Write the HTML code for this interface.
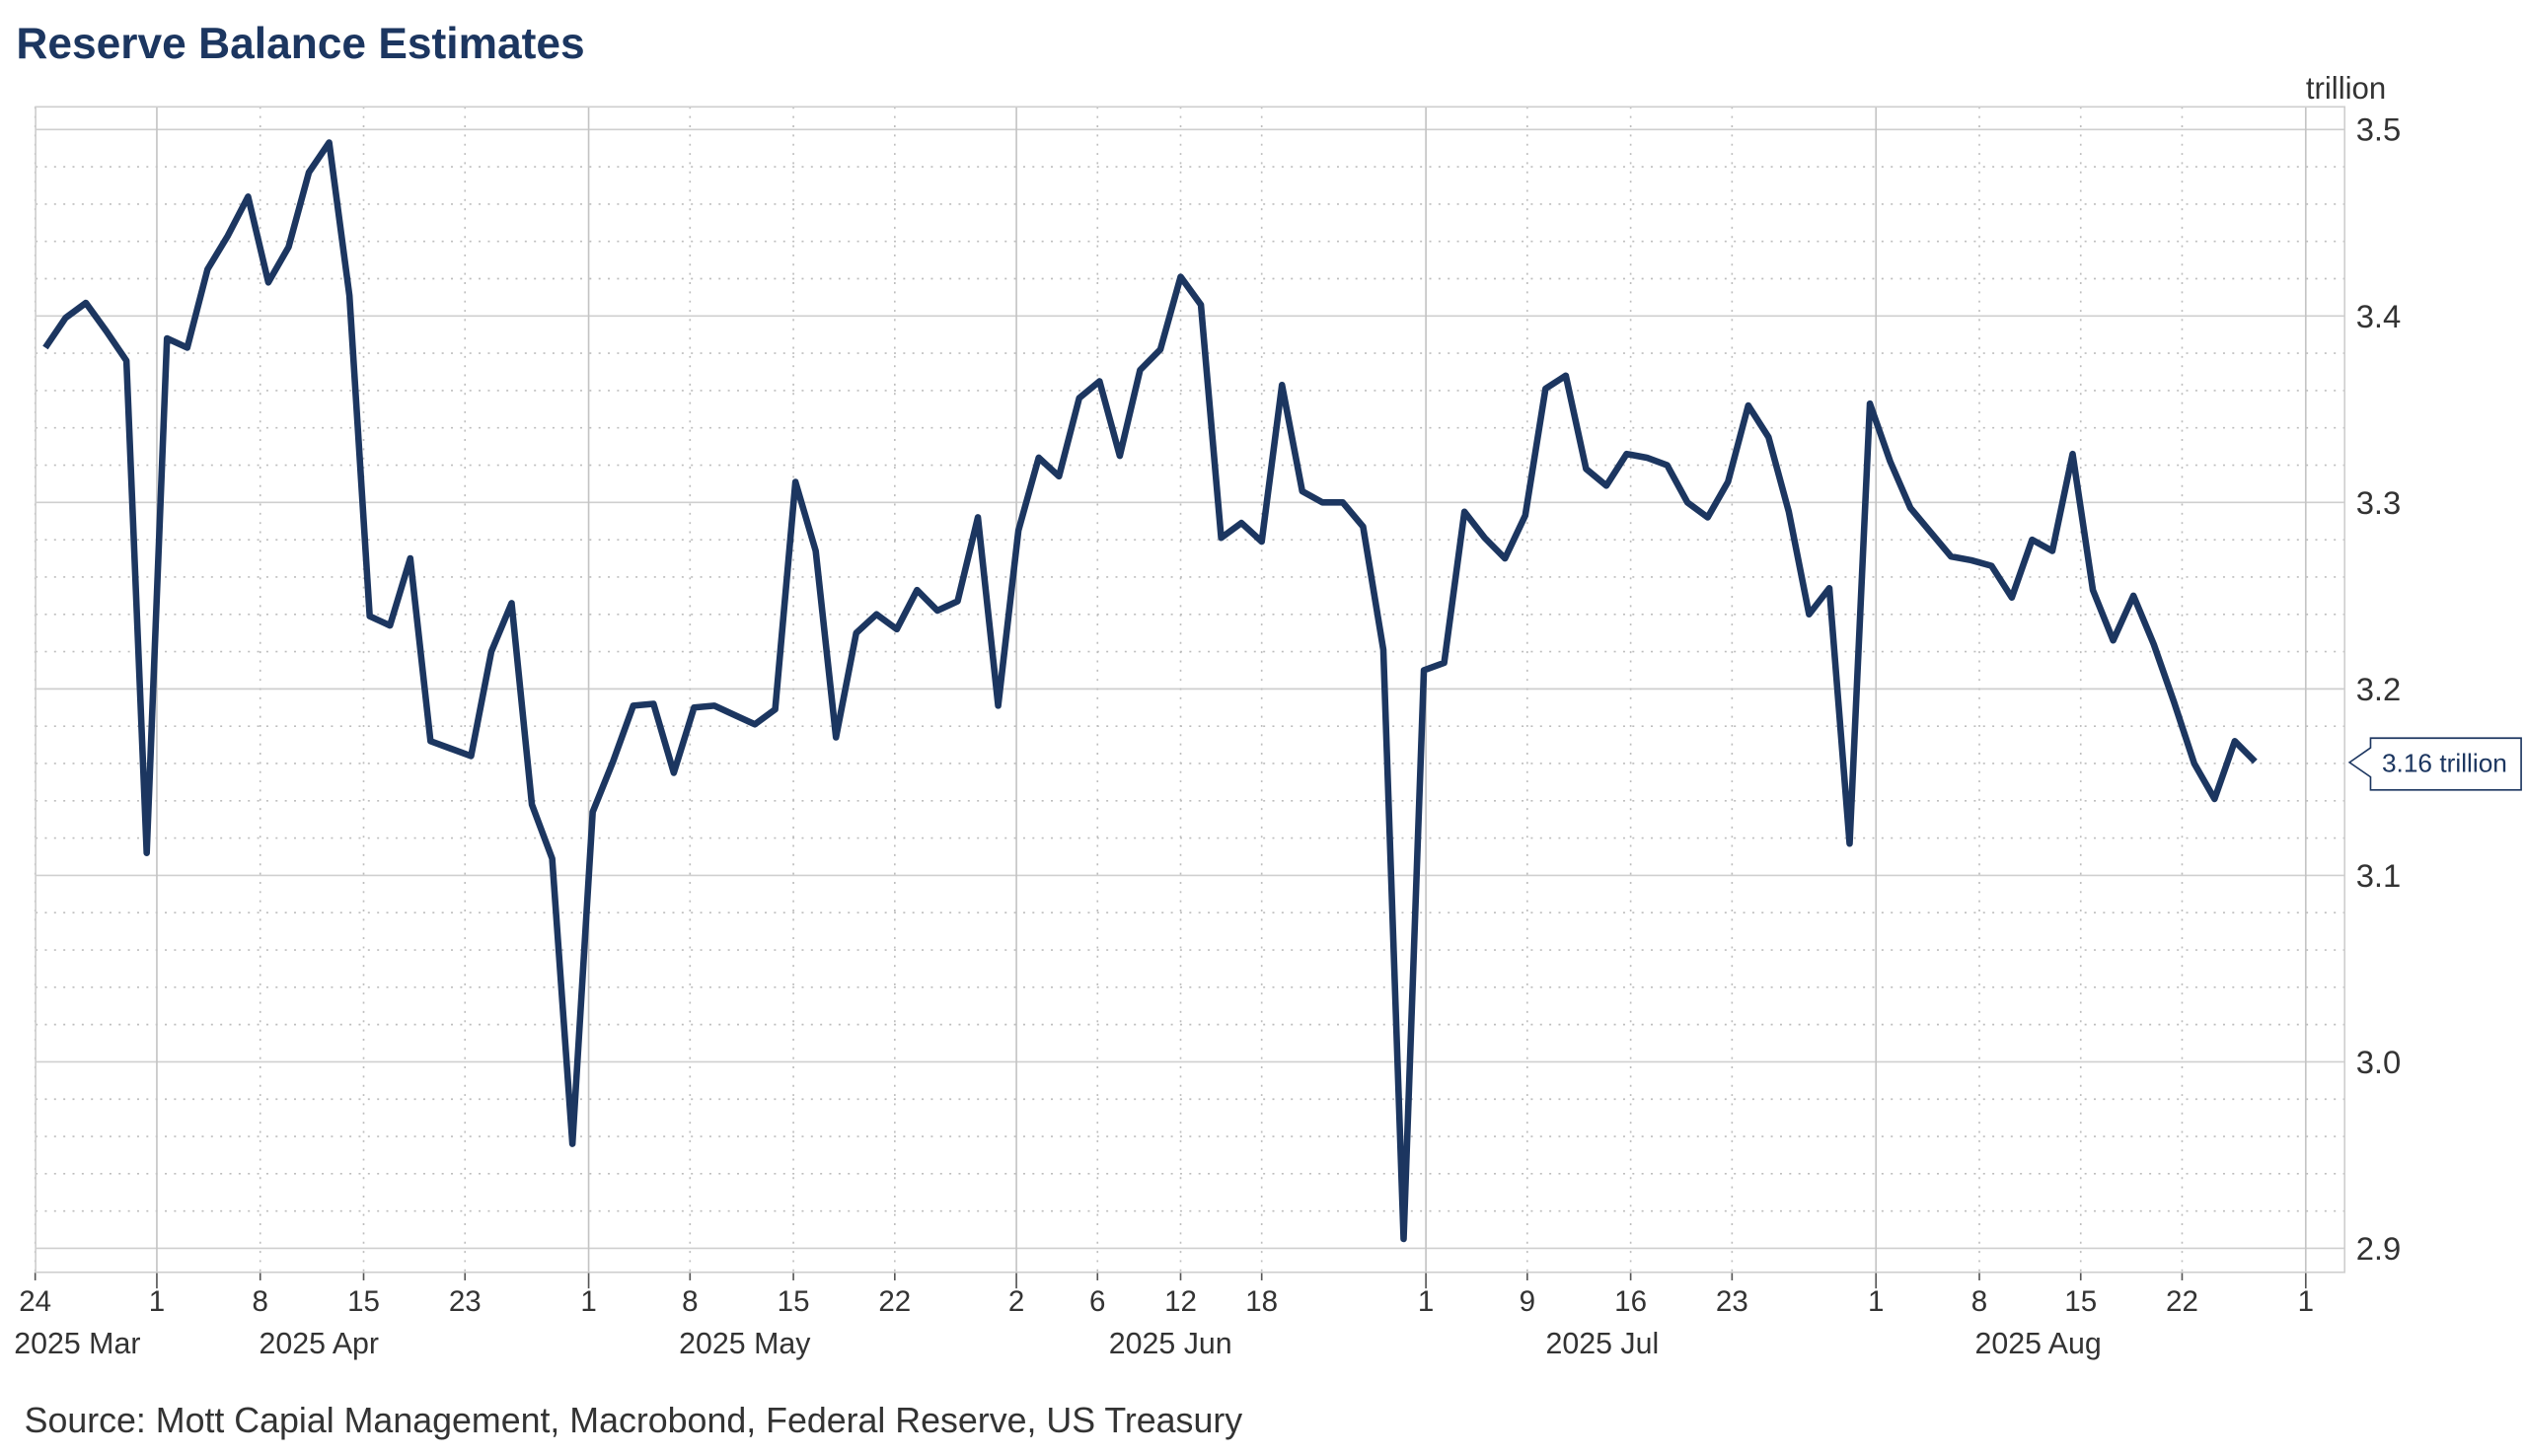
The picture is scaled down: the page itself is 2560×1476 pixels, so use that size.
<!DOCTYPE html>
<html><head><meta charset="utf-8"><style>
html,body{margin:0;padding:0;background:#fff;}
svg{display:block;font-family:"Liberation Sans",Arial,sans-serif;}
</style></head><body>
<svg id="chart" width="2560" height="1476" viewBox="0 0 1560 899.5" preserveAspectRatio="none" xmlns="http://www.w3.org/2000/svg">
<text x="10" y="36" font-size="27" font-weight="bold" fill="#1c3660">Reserve Balance Estimates</text>
<text x="1424" y="61" font-size="19" fill="#333">trillion</text>
<g id="grid"></g>
<g id="axes"></g>
<g id="series"></g>
<g>
<path d="M1451 471 L1464 462 L1464 456 L1557 456 L1557 488 L1464 488 L1464 480 Z" fill="#fff" stroke="#1c3660" stroke-width="1"/>
<text x="1471" y="477" font-size="16" fill="#1c3660">3.16 trillion</text>
</g>
<text x="15" y="885" font-size="21.8" fill="#333">Source: Mott Capial Management, Macrobond, Federal Reserve, US Treasury</text>
</svg>
<script>
const values = [3.383,3.399,3.407,3.392,3.376,3.112,3.388,3.383,3.425,3.443,3.464,3.418,3.437,3.477,3.493,3.411,3.239,3.234,3.270,3.172,3.168,3.164,3.220,3.246,3.138,3.109,2.956,3.134,3.161,3.191,3.192,3.155,3.190,3.191,3.186,3.181,3.189,3.311,3.274,3.174,3.230,3.240,3.232,3.253,3.242,3.247,3.292,3.191,3.285,3.324,3.314,3.356,3.365,3.325,3.371,3.382,3.421,3.406,3.281,3.289,3.279,3.363,3.306,3.300,3.300,3.287,3.221,2.905,3.210,3.214,3.295,3.281,3.270,3.293,3.361,3.368,3.318,3.309,3.326,3.324,3.320,3.300,3.292,3.311,3.352,3.335,3.295,3.240,3.254,3.117,3.353,3.322,3.297,3.284,3.271,3.269,3.266,3.249,3.280,3.274,3.326,3.253,3.226,3.250,3.224,3.193,3.160,3.141,3.172,3.161];
const tickIdx = [-0.5,5.5,10.6,15.7,20.7,26.8,31.8,36.9,41.9,47.9,51.9,56,60,68.1,73.1,78.2,83.2,90.3,95.4,100.4,105.4,111.5];
const tickLabels = ["24","1","8","15","23","1","8","15","22","2","6","12","18","1","9","16","23","1","8","15","22","1"];
const tickMajor = [0,1,0,0,0,1,0,0,0,1,0,0,0,1,0,0,0,1,0,0,0,1];
const monthLabels = ["2025 Mar","2025 Apr","2025 May","2025 Jun","2025 Jul","2025 Aug"];
const monthPos = [-0.5,13.5,34.5,55.5,76.8,98.3];
const yTicks = [2.9,3.0,3.1,3.2,3.3,3.4,3.5];

const L=22,R=1448,T=66,B=786;
const x = i => 28 + i*12.52;
const y = v => 80 + (3.5 - v)*1152;
const NS="http://www.w3.org/2000/svg";
function mk(tag,attrs,parent){const e=document.createElementNS(NS,tag);for(const k in attrs)e.setAttribute(k,attrs[k]);parent.appendChild(e);return e;}
const grid=document.getElementById('grid'),axes=document.getElementById('axes'),series=document.getElementById('series');

for(let k=0;k<=31;k++){const v=2.88+k*0.02;const yy=y(v);if(yy<T||yy>B)continue;
 const major=yTicks.some(t=>Math.abs(t-v)<1e-6);
 const ln=mk('line',{x1:L,x2:R,y1:yy,y2:yy,stroke:major?'#cfcfcf':'#bdbdbd','stroke-width':1,'stroke-dasharray':major?'':'1.2 4.5'},grid);
 
 }
tickIdx.forEach((t,i)=>{const xx=x(t);
 const ln=mk('line',{x1:xx,x2:xx,y1:T,y2:B,stroke:tickMajor[i]?'#c4c4c4':'#bdbdbd','stroke-width':1,'stroke-dasharray':tickMajor[i]?'':'1.2 4.5'},grid);
 
 
 const tk=mk('line',{x1:xx,x2:xx,y1:B,y2:B+(tickMajor[i]?10:5),stroke:'#555','stroke-width':1},axes);
 
 
 const tx=mk('text',{x:xx,y:810,'font-size':18,fill:'#333','text-anchor':'middle'},axes);
 tx.textContent=tickLabels[i];
 
 });
monthLabels.forEach((m,i)=>{const tx=mk('text',{x:x(monthPos[i])+ (i==0?26:0),y:836,'font-size':18.5,fill:'#333','text-anchor':'middle'},axes);
 tx.textContent=m;
 
 });
yTicks.forEach(v=>{const tx=mk('text',{x:1455,y:y(v)+7,'font-size':20,fill:'#333'},axes);
 tx.textContent=v.toFixed(1);
 
 });
const fr=mk('rect',{x:L,y:T,width:R-L,height:B-T,fill:'none',stroke:'#cfcfcf','stroke-width':1},axes);


const p=mk('polyline',{points:values.map((v,i)=>x(i)+','+y(v)).join(' '),fill:'none',stroke:'#1c3660','stroke-width':4,'stroke-linejoin':'round'},series);


</script>
</body></html>
